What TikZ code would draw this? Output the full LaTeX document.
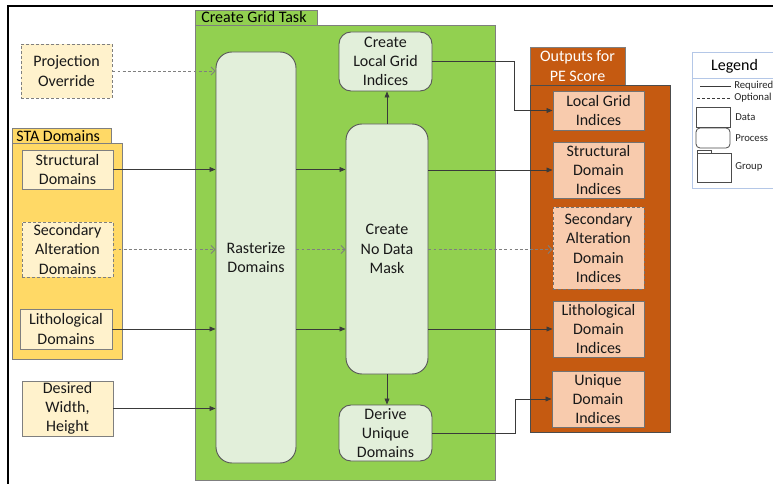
\documentclass[tikz,border=0pt]{standalone}
\usepackage{fontspec}
\setmainfont{Carlito}
\usetikzlibrary{arrows.meta}
\definecolor{dataY}{HTML}{FFF2CC}
\definecolor{grpY}{HTML}{FFD966}
\definecolor{grpG}{HTML}{92D050}
\definecolor{procG}{HTML}{E2EFDA}
\definecolor{grpO}{HTML}{C55A11}
\definecolor{dataO}{HTML}{F8CBAD}
\definecolor{bordG}{HTML}{7F7F7F}
\definecolor{lineD}{HTML}{3A3A3A}
\definecolor{legB}{HTML}{B4C7E7}
\tikzset{
  wh/.style 2 args={minimum width=#1*0.75pt, minimum height=#2*0.75pt},
  base/.style={inner sep=0pt, align=center, font=\fontsize{12}{14.4}\selectfont, text=black!90},
  datay/.style={base, draw=bordG, fill=dataY, line width=0.7pt},
  datao/.style={base, draw=black!55, fill=dataO, line width=0.7pt},
  proc/.style={base, draw=black!65, fill=procG, line width=0.7pt, rounded corners=9pt},
  opt/.style={dashed, dash pattern=on 2.2pt off 1.6pt},
  req/.style={draw=lineD, line width=0.6pt, -{Triangle[length=4.5pt,width=3.6pt]}},
  optl/.style={draw=bordG, line width=0.6pt, opt, -{Straight Barb[length=3pt,width=6pt]}},
  grp/.style={draw=bordG, line width=0.6pt},
  tablbl/.style={inner sep=0pt, font=\fontsize{12}{14.4}\selectfont},
  legtxt/.style={inner sep=0pt, anchor=west, font=\fontsize{8}{9}\selectfont, text=black!85},
}
\begin{document}
\begin{tikzpicture}[x=0.75pt,y=-0.75pt]
\useasboundingbox (0,0) rectangle (773,484);
\clip (0,0) rectangle (773,484);
% outer frame
\draw[line width=1.6pt] (773,6) -- (8,6) -- (8,490);

% STA Domains group
\draw[grp, fill=grpY] (12,128) rectangle (111,143);
\draw[grp, fill=grpY] (12,143) rectangle (122,359);
\node[tablbl, anchor=west] (statab) at (16,136) {STA Domains};

% Create Grid Task group
\draw[grp, fill=grpG] (195,10) rectangle (317,25);
\draw[grp, fill=grpG] (195,25) rectangle (495,480);
\node[tablbl, anchor=west] (cgttab) at (201,17.5) {Create Grid Task};

% Outputs group
\draw[grp, fill=grpO] (530,47) rectangle (625,85);
\draw[grp, draw=black!70, fill=grpO] (530,85) rectangle (670,432);
\node[tablbl, text=white, align=center] (outtab) at (577.5,66) {Outputs for\\PE Score};

% inputs
\node[datay, opt, wh={91}{54}] (proj) at (66.5,71) {Projection\\Override};
\node[datay, wh={91}{39}] (struct) at (67.5,169.5) {Structural\\Domains};
\node[datay, opt, wh={91}{55}] (second) at (67.5,249.5) {Secondary\\Alteration\\Domains};
\node[datay, wh={92}{40}] (litho) at (66,329) {Lithological\\Domains};
\node[datay, wh={91}{55}] (desired) at (67.5,408.5) {Desired\\Width,\\Height};

% processes
\node[proc, wh={80}{411}, rounded corners=12pt] (raster) at (256,257.5) {Rasterize\\Domains};
\node[proc, wh={93}{59}] (cli) at (385.5,61.5) {Create\\Local Grid\\Indices};
\node[proc, wh={82}{250}, rounded corners=12pt] (ndm) at (387,249) {Create\\No Data\\Mask};
\node[proc, wh={93}{56}] (dud) at (385.5,433) {Derive\\Unique\\Domains};

% outputs
\node[datao, wh={91}{39}] (o1) at (598.5,110.5) {Local Grid\\Indices};
\node[datao, wh={91}{56}] (o2) at (598.5,170) {Structural\\Domain\\Indices};
\node[datao, opt, wh={91}{82}] (o3) at (598.5,248) {Secondary\\Alteration\\Domain\\Indices};
\node[datao, wh={91}{56}] (o4) at (598.5,329) {Lithological\\Domain\\Indices};
\node[datao, wh={92}{56}] (o5) at (598,399) {Unique\\Domain\\Indices};

% connectors: inputs -> rasterize
\draw[optl] (proj.east) -- (proj.east -| raster.west);
\draw[req] (struct.east) -- (struct.east -| raster.west);
\draw[optl] (second.east) -- (second.east -| raster.west);
\draw[req] (litho.east) -- (litho.east -| raster.west);
\draw[req] (desired.east) -- (desired.east -| raster.west);

% rasterize -> no data mask
\draw[req] (raster.east |- struct.east) -- (ndm.west |- struct.east);
\draw[optl] (raster.east |- second.east) -- (ndm.west |- second.east);
\draw[req] (raster.east |- litho.east) -- (ndm.west |- litho.east);

% ndm -> processes
\draw[req] (ndm.north) -- (ndm.north |- cli.south);
\draw[req] (ndm.south) -- (ndm.south |- dud.north);

% -> outputs
\draw[req] (cli.east) -- (514,61.5) |- (o1.west);
\draw[req] (ndm.east |- o2.west) -- (o2.west);
\draw[optl] (ndm.east |- second.east) -- (o3.west |- second.east);
\draw[req] (ndm.east |- o4.west) -- (o4.west);
\draw[req] (dud.east) -- (515,433) |- (o5.west);

% legend
\draw[draw=legB, line width=0.7pt, fill=white] (692,52) rectangle (790,188);
\draw[draw=legB, line width=0.7pt] (692,78) -- (790,78);
\node[tablbl] (legtitle) at (734.5,66) {Legend};
\draw[draw=lineD, line width=0.5pt] (700,86) -- (731,86);
\node[legtxt] (lreq) at (734,86) {Required};
\draw[draw=lineD, line width=0.5pt, opt] (697,98) -- (731,98);
\node[legtxt] (lopt) at (734,98) {Optional};
\node[draw=black!70, line width=0.6pt, inner sep=0pt, wh={34}{20}] (ldata) at (713,117) {};
\node[legtxt] (ldt) at (735,117) {Data};
\node[draw=black!70, line width=0.6pt, inner sep=0pt, rounded corners=3pt, wh={34}{20}] (lproc) at (713,138) {};
\node[legtxt] (lpt) at (735,138) {Process};
\draw[draw=black!70, line width=0.6pt] (697,154) -- (697,150) -- (711,150) -- (711,154);
\node[draw=black!70, line width=0.6pt, inner sep=0pt, wh={34}{29}] (lgrp) at (714,168) {};
\node[legtxt] (lgt) at (735,167) {Group};
\end{tikzpicture}
\end{document}
